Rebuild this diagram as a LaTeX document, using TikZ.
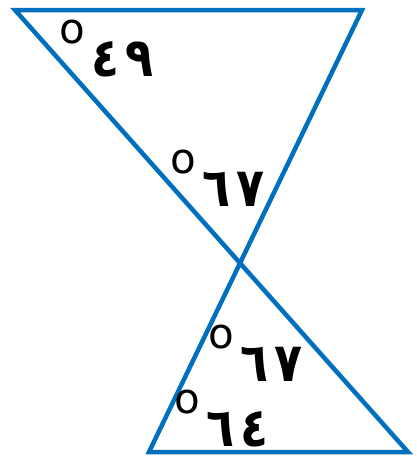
\documentclass[tikz,border=0pt]{standalone}
\usepackage{fontspec}
\newfontfamily\arabicfont[Script=Arabic]{DejaVu Sans}
\definecolor{edgeblue}{RGB}{0,112,190}
\tikzset{
  side/.style     = {draw=edgeblue, line width=4.5pt, line join=miter},
  anglabel/.style = {font=\arabicfont\bfseries\fontsize{54}{54}\selectfont,
                     inner sep=0pt, anchor=base west},
}
\newcommand{\degmark}{\raisebox{33pt}{\mdseries\fontsize{42}{42}\selectfont o}\hspace{7pt}}
\newcommand{\dgap}{\hspace{7pt}}

\begin{document}
\begin{tikzpicture}[x=1pt, y=-1pt]
  \useasboundingbox (0,0) rectangle (417,466);
  % vertices of the two triangles
  \coordinate (tl) at (15,10);
  \coordinate (tr) at (362,10);
  \coordinate (bl) at (149,452);
  \coordinate (br) at (408,452);

  \draw[side] (tl) -- (tr) -- (bl) -- (br) -- cycle;

  % angle labels
  \node[anglabel] (a49)  at (59,76)   {\degmark \scalebox{0.85}[1]{٤\dgap ٩}};
  \node[anglabel] (a67t) at (170,206) {\degmark \scalebox{0.85}[1]{٦\dgap ٧}};
  \node[anglabel] (a67b) at (208,381) {\degmark \scalebox{0.85}[1]{٦\dgap ٧}};
  \node[anglabel] (a64)  at (174,446) {\degmark \scalebox{0.85}[1]{٦\dgap ٤}};
\end{tikzpicture}
\end{document}
